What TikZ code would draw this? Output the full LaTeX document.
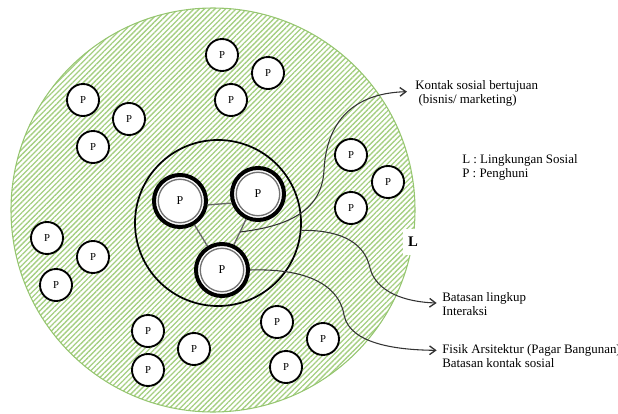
\documentclass[tikz,border=0pt]{standalone}
\usepackage{fontspec}
\setmainfont{Liberation Serif}
\usetikzlibrary{patterns.meta, arrows.meta}

\definecolor{hatchgreen}{RGB}{165,207,130}
\definecolor{rimgreen}{RGB}{150,198,112}

\begin{document}
\begin{tikzpicture}[x=0.75pt, y=-0.75pt,
    every node/.style={font=\fontsize{9.7}{9.8}\selectfont},
    lingkungan/.style={circle, draw=rimgreen, line width=0.8pt, minimum size=303pt, inner sep=0pt,
      pattern={Lines[angle=45, distance=2.8pt, line width=1pt]}, pattern color=hatchgreen},
    penghuni/.style={circle, draw, line width=1.4pt, fill=white, minimum size=24pt, inner sep=0pt, font=\fontsize{8}{8}\selectfont},
    inti/.style={circle, draw, line width=3pt, fill=white, minimum size=39pt, inner sep=0pt, font=\fontsize{9}{9}\selectfont},
    cincin/.style={draw=black!55, line width=1pt},
    relasi/.style={draw=black!60, line width=1pt},
    kontak/.style={draw=black!80, line width=0.8pt, -{Straight Barb[length=4.5pt, width=6.5pt, line width=1pt]}},
    keterangan/.style={anchor=base west, align=left, inner sep=0pt}]
    \useasboundingbox (0, 0) rectangle (618, 414);

    % lingkungan sosial
    \node[lingkungan] (ling) at (213, 210) {};
    \node[circle, draw, line width=1.3pt, minimum size=124.5pt, inner sep=0pt] (lingkup) at (218, 223) {};
    \node[fill=white, minimum width=15pt, minimum height=20pt, inner sep=0pt, font=\fontsize{11}{11}\bfseries] (labelL) at (413, 242) {L};

    % penghuni
    \foreach \x/\y [count=\i] in {222/55, 268/73, 231/100, 83/100, 129/119, 93/147, 351/155, 388/182, 351/208,
        47/238, 93/257, 56/285, 148/331, 194/349, 148/370, 277/322, 323/339, 286/367}
      \node[penghuni] (p\i) at (\x, \y) {P};

    % inti
    \node[inti] (pa) at (180, 201) {P};
    \node[inti] (pb) at (258, 194) {P};
    \node[inti] (pc) at (222, 270) {P};
    \foreach \n in {pa, pb, pc}
      \draw[cincin] (\n.center) circle[radius=16.3pt];
    \draw[relasi] (pa.-8) -- (pb.199);
    \draw[relasi] (pa) -- (pc);
    \draw[relasi] (pb) -- coordinate[pos=0.5] (mid) (pc);

    % keterangan (base = last line)
    \node[keterangan] (kontaktext) at (415, 103) {Kontak sosial bertujuan\\\hspace{2.5pt}(bisnis/ marketing)};
    \node[keterangan] (legenda) at (462, 177) {L : Lingkungan Sosial\\P : Penghuni};
    \node[keterangan] (batasan) at (442, 315) {Batasan lingkup\\Interaksi};
    \node[keterangan] (fisik) at (442, 367) {Fisik Arsitektur (Pagar Bangunan)\\Batasan kontak sosial};

    \draw[kontak] (mid) .. controls (290, 226) and (322, 210) .. (324, 170)
      .. controls (327, 115) and (360, 93) .. ([xshift=-6pt, yshift=8.5pt]kontaktext.base west);
    \draw[kontak] (lingkup.-5) .. controls (345, 230) and (365, 245) .. (370, 268)
      .. controls (376, 292) and (405, 302) .. ([xshift=-4pt, yshift=9pt]batasan.base west);
    \draw[kontak] (pc.east) .. controls (315, 268) and (340, 290) .. (344, 315)
      .. controls (350, 345) and (400, 350) .. ([xshift=-4pt, yshift=12.5pt]fisik.base west);
\end{tikzpicture}
\end{document}
